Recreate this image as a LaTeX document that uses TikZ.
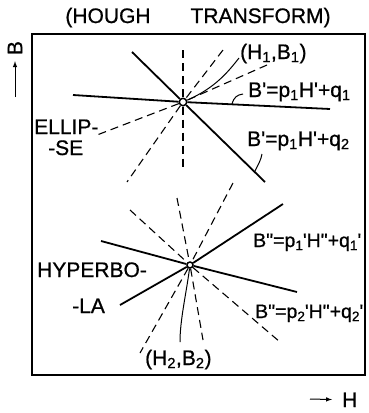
\documentclass[tikz,border=0pt]{standalone}
\usepackage{fontspec}
\setmainfont{Liberation Sans}[FakeBold=0.8]
\newcommand{\prm}{\textquotesingle}
\newcommand{\dpr}{\textquotedbl}
\newcommand{\ps}[2]{\textsubscript{#2}\kern-0.5pt#1}
\begin{document}
\begin{tikzpicture}[x=1pt, y=-1pt, >=latex, font=\fontsize{21}{24}\selectfont,
    bar/.style={line width=1.8pt},
    ray/.style={line width=1.1pt, dash pattern=on 8pt off 5pt},
    lead/.style={line width=1pt},
    hub/.style={circle, draw, line width=1.5pt, fill=white, inner sep=0pt, minimum size=7.5pt},
    lbl/.style={anchor=base west, inner sep=0pt},
    eqlbl/.style={lbl, font=\fontsize{19.5}{22}\selectfont}]

    \useasboundingbox (0,0) rectangle (369,413);

    % Titolo
    \node[anchor=base] (title) at (198,23) {(HOUGH\hspace{40pt}TRANSFORM)};

    % Riquadro
    \draw[line width=1.8pt] (32,34) rectangle (365,375);

    % Assi B e H
    \node[rotate=90, inner sep=0pt] (B) at (15,48) {B};
    \coordinate (Bfoot) at (15,97);
    \draw[->, line width=1pt, shorten >=6pt] (Bfoot) -- (B.west);

    \node[lbl] (H) at (342,407) {H};
    \coordinate (Hfoot) at (310,399);
    \draw[->, line width=1pt, shorten >=10pt] (Hfoot) -- (H.west);

    % Punto (H1,B1) - ellisse
    \node[hub] (e) at (183,102) {};
    \draw[bar] (73,95) -- (e) -- (330,109);
    \draw[bar] (132,52) -- (e) -- (265,182);
    \draw[ray] (183,50) -- (e) -- (183,170);
    \draw[ray] (223,50) -- (e) -- (127,182);
    \draw[ray] (267,65) -- (e) -- (97,135);

    \node[lbl] (H1) at (240,59) {(H\textsubscript{1},B\textsubscript{1})};
    \draw[lead] (e) .. controls (215,88) and (228,72) .. (239,58);

    \node[lbl] (eq1) at (248,97) {B\prm=p\textsubscript{1}H\prm+q\textsubscript{1}};
    \coordinate (eq1foot) at (232,104);
    \draw[lead] (eq1foot) .. controls (234,97) and (237,95) .. (243,94);

    \node[lbl] (eq2) at (247,146) {B\prm=p\textsubscript{1}H\prm+q\textsubscript{2}};
    \coordinate (eq2foot) at (255,171);
    \draw[lead] (eq2foot) .. controls (258,165) and (261,160) .. (262,154);

    \node[lbl] (ell1) at (34,134) {ELLIP-};
    \node[lbl] (ell2) at (48,155) {-SE};

    % Punto (H2,B2) - iperbole
    \node[hub, minimum size=6pt] (h) at (190,265) {};
    \draw[bar] (101,241) -- (h) -- (297,292);
    \draw[bar] (120,305) -- (h) -- (283,204);
    \draw[ray] (130,210) -- (h) -- (280,342);
    \draw[ray] (233,183) -- (h) -- (140,353);
    \draw[ray] (177,198) -- (h) -- (203,340);

    \node[lbl] (H2) at (145,365) {(H\textsubscript{2},B\textsubscript{2})};
    \draw[lead] (h) .. controls (186,295) and (180,320) .. (180,342);

    \node[eqlbl] (eq3) at (253,247) {B\dpr=p\ps{\prm}{1}H\dpr+q\ps{\prm}{1}};
    \node[eqlbl] (eq4) at (255,318) {B\dpr=p\ps{\prm}{2}H\dpr+q\ps{\prm}{2}};

    \node[lbl] (hyp1) at (37,277) {HYPERBO-};
    \node[lbl] (hyp2) at (72,313) {-LA};

\end{tikzpicture}
\end{document}
